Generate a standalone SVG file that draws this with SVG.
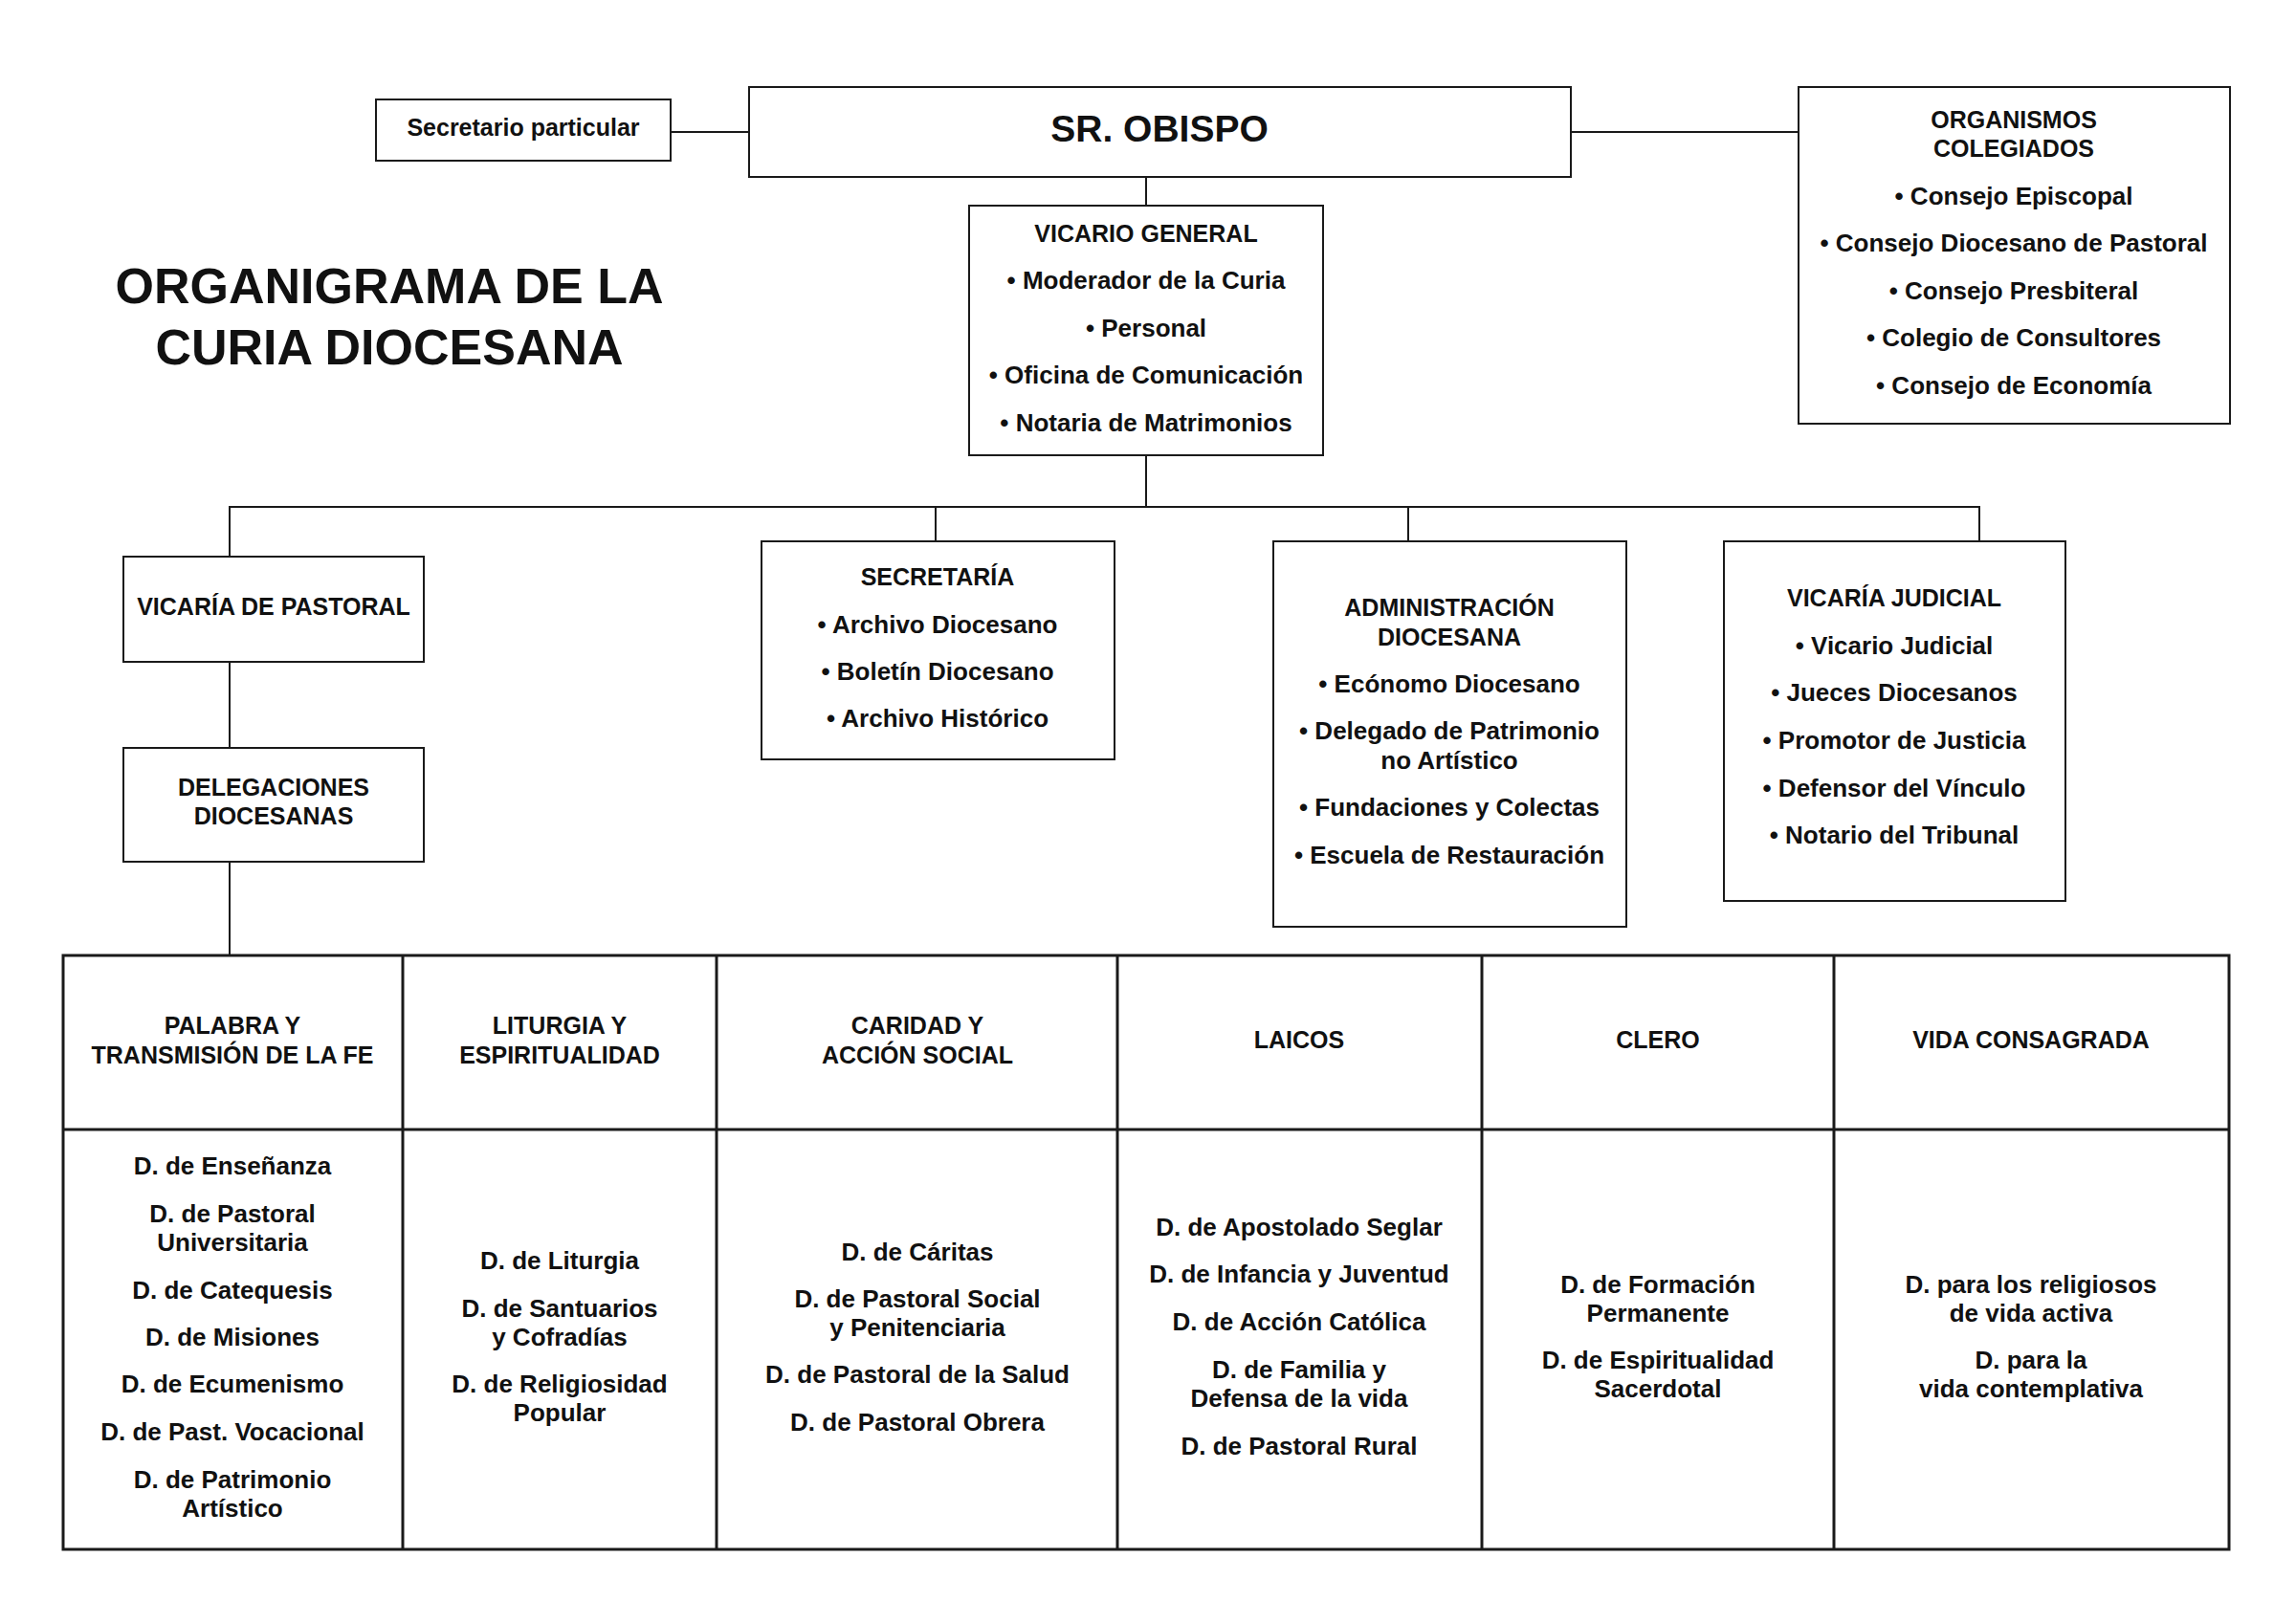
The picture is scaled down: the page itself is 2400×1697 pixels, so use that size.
<svg xmlns="http://www.w3.org/2000/svg" width="2400" height="1697" viewBox="0 0 2400 1697">
<style>
  .bx { fill: #ffffff; stroke: #1a1a1a; stroke-width: 2; }
  .tb { fill: none; stroke: #1a1a1a; stroke-width: 3; }
  .ln { fill: none; stroke: #1a1a1a; stroke-width: 2; }
  text { font-family: "Liberation Sans", Arial, sans-serif; font-weight: bold; fill: #111111; text-anchor: middle; }
  .h { font-size: 25px; }
  .i { font-size: 26px; }
  .t { font-size: 52px; }
  .big { font-size: 39px; }
</style>
<rect width="2400" height="1697" fill="#ffffff"/>

<g id="connectors">
  <line class="ln" x1="701" y1="138" x2="783" y2="138"/>
  <line class="ln" x1="1642" y1="138" x2="1880" y2="138"/>
  <line class="ln" x1="1198" y1="185" x2="1198" y2="215"/>
  <line class="ln" x1="1198" y1="476" x2="1198" y2="530"/>
  <polyline class="ln" points="240,582 240,530 2069,530 2069,566"/>
  <line class="ln" x1="978" y1="530" x2="978" y2="566"/>
  <line class="ln" x1="1472" y1="530" x2="1472" y2="566"/>
  <line class="ln" x1="240" y1="692" x2="240" y2="782"/>
  <line class="ln" x1="240" y1="901" x2="240" y2="999"/>
</g>

<g id="title">
  <text class="t" x="407" y="317">ORGANIGRAMA DE LA</text>
  <text class="t" x="407" y="381">CURIA DIOCESANA</text>
</g>

<g id="secretario-particular">
  <rect class="bx" x="393" y="104" width="308" height="64"/>
  <text class="h" x="547" y="142">Secretario particular</text>
</g>

<g id="sr-obispo">
  <rect class="bx" x="783" y="91" width="859" height="94"/>
  <text class="big" x="1212" y="148">SR. OBISPO</text>
</g>

<g id="organismos-colegiados">
  <rect class="bx" x="1880" y="91" width="451" height="352"/>
  <text class="h" x="2105" y="134">ORGANISMOS</text>
  <text class="h" x="2105" y="164">COLEGIADOS</text>
  <text class="i" x="2105" y="214">• Consejo Episcopal</text>
  <text class="i" x="2105" y="263">• Consejo Diocesano de Pastoral</text>
  <text class="i" x="2105" y="313">• Consejo Presbiteral</text>
  <text class="i" x="2105" y="362">• Colegio de Consultores</text>
  <text class="i" x="2105" y="412">• Consejo de Economía</text>
</g>

<g id="vicario-general">
  <rect class="bx" x="1013" y="215" width="370" height="261"/>
  <text class="h" x="1198" y="253">VICARIO GENERAL</text>
  <text class="i" x="1198" y="302">• Moderador de la Curia</text>
  <text class="i" x="1198" y="352">• Personal</text>
  <text class="i" x="1198" y="401">• Oficina de Comunicación</text>
  <text class="i" x="1198" y="451">• Notaria de Matrimonios</text>
</g>

<g id="vicaria-pastoral">
  <rect class="bx" x="129" y="582" width="314" height="110"/>
  <text class="h" x="286" y="643">VICARÍA DE PASTORAL</text>
</g>

<g id="delegaciones-diocesanas">
  <rect class="bx" x="129" y="782" width="314" height="119"/>
  <text class="h" x="286" y="832">DELEGACIONES</text>
  <text class="h" x="286" y="862">DIOCESANAS</text>
</g>

<g id="secretaria">
  <rect class="bx" x="796" y="566" width="369" height="228"/>
  <text class="h" x="980" y="612">SECRETARÍA</text>
  <text class="i" x="980" y="662">• Archivo Diocesano</text>
  <text class="i" x="980" y="711">• Boletín Diocesano</text>
  <text class="i" x="980" y="760">• Archivo Histórico</text>
</g>

<g id="administracion-diocesana">
  <rect class="bx" x="1331" y="566" width="369" height="403"/>
  <text class="h" x="1515" y="644">ADMINISTRACIÓN</text>
  <text class="h" x="1515" y="675">DIOCESANA</text>
  <text class="i" x="1515" y="724">• Ecónomo Diocesano</text>
  <text class="i" x="1515" y="773">• Delegado de Patrimonio</text>
  <text class="i" x="1515" y="804">no Artístico</text>
  <text class="i" x="1515" y="853">• Fundaciones y Colectas</text>
  <text class="i" x="1515" y="903">• Escuela de Restauración</text>
</g>

<g id="vicaria-judicial">
  <rect class="bx" x="1802" y="566" width="357" height="376"/>
  <text class="h" x="1980" y="634">VICARÍA JUDICIAL</text>
  <text class="i" x="1980" y="684">• Vicario Judicial</text>
  <text class="i" x="1980" y="733">• Jueces Diocesanos</text>
  <text class="i" x="1980" y="783">• Promotor de Justicia</text>
  <text class="i" x="1980" y="833">• Defensor del Vínculo</text>
  <text class="i" x="1980" y="882">• Notario del Tribunal</text>
</g>

<g id="delegaciones-table">
  <rect class="tb" x="66" y="999" width="2264" height="621"/>
  <line class="tb" x1="66" y1="1181" x2="2330" y2="1181"/>
  <line class="tb" x1="421" y1="999" x2="421" y2="1620"/>
  <line class="tb" x1="749" y1="999" x2="749" y2="1620"/>
  <line class="tb" x1="1168" y1="999" x2="1168" y2="1620"/>
  <line class="tb" x1="1549" y1="999" x2="1549" y2="1620"/>
  <line class="tb" x1="1917" y1="999" x2="1917" y2="1620"/>
</g>

<g id="col-palabra">
  <text class="h" x="243" y="1081">PALABRA Y</text>
  <text class="h" x="243" y="1112">TRANSMISIÓN DE LA FE</text>
  <text class="i" x="243" y="1228">D. de Enseñanza</text>
  <text class="i" x="243" y="1278">D. de Pastoral</text>
  <text class="i" x="243" y="1308">Universitaria</text>
  <text class="i" x="243" y="1358">D. de Catequesis</text>
  <text class="i" x="243" y="1407">D. de Misiones</text>
  <text class="i" x="243" y="1456">D. de Ecumenismo</text>
  <text class="i" x="243" y="1506">D. de Past. Vocacional</text>
  <text class="i" x="243" y="1556">D. de Patrimonio</text>
  <text class="i" x="243" y="1586">Artístico</text>
</g>

<g id="col-liturgia">
  <text class="h" x="585" y="1081">LITURGIA Y</text>
  <text class="h" x="585" y="1112">ESPIRITUALIDAD</text>
  <text class="i" x="585" y="1327">D. de Liturgia</text>
  <text class="i" x="585" y="1377">D. de Santuarios</text>
  <text class="i" x="585" y="1407">y Cofradías</text>
  <text class="i" x="585" y="1456">D. de Religiosidad</text>
  <text class="i" x="585" y="1486">Popular</text>
</g>

<g id="col-caridad">
  <text class="h" x="959" y="1081">CARIDAD Y</text>
  <text class="h" x="959" y="1112">ACCIÓN SOCIAL</text>
  <text class="i" x="959" y="1318">D. de Cáritas</text>
  <text class="i" x="959" y="1367">D. de Pastoral Social</text>
  <text class="i" x="959" y="1397">y Penitenciaria</text>
  <text class="i" x="959" y="1446">D. de Pastoral de la Salud</text>
  <text class="i" x="959" y="1496">D. de Pastoral Obrera</text>
</g>

<g id="col-laicos">
  <text class="h" x="1358" y="1096">LAICOS</text>
  <text class="i" x="1358" y="1292">D. de Apostolado Seglar</text>
  <text class="i" x="1358" y="1341">D. de Infancia y Juventud</text>
  <text class="i" x="1358" y="1391">D. de Acción Católica</text>
  <text class="i" x="1358" y="1441">D. de Familia y</text>
  <text class="i" x="1358" y="1471">Defensa de la vida</text>
  <text class="i" x="1358" y="1521">D. de Pastoral Rural</text>
</g>

<g id="col-clero">
  <text class="h" x="1733" y="1096">CLERO</text>
  <text class="i" x="1733" y="1352">D. de Formación</text>
  <text class="i" x="1733" y="1382">Permanente</text>
  <text class="i" x="1733" y="1431">D. de Espiritualidad</text>
  <text class="i" x="1733" y="1461">Sacerdotal</text>
</g>

<g id="col-vida-consagrada">
  <text class="h" x="2123" y="1096">VIDA CONSAGRADA</text>
  <text class="i" x="2123" y="1352">D. para los religiosos</text>
  <text class="i" x="2123" y="1382">de vida activa</text>
  <text class="i" x="2123" y="1431">D. para la</text>
  <text class="i" x="2123" y="1461">vida contemplativa</text>
</g>
</svg>
